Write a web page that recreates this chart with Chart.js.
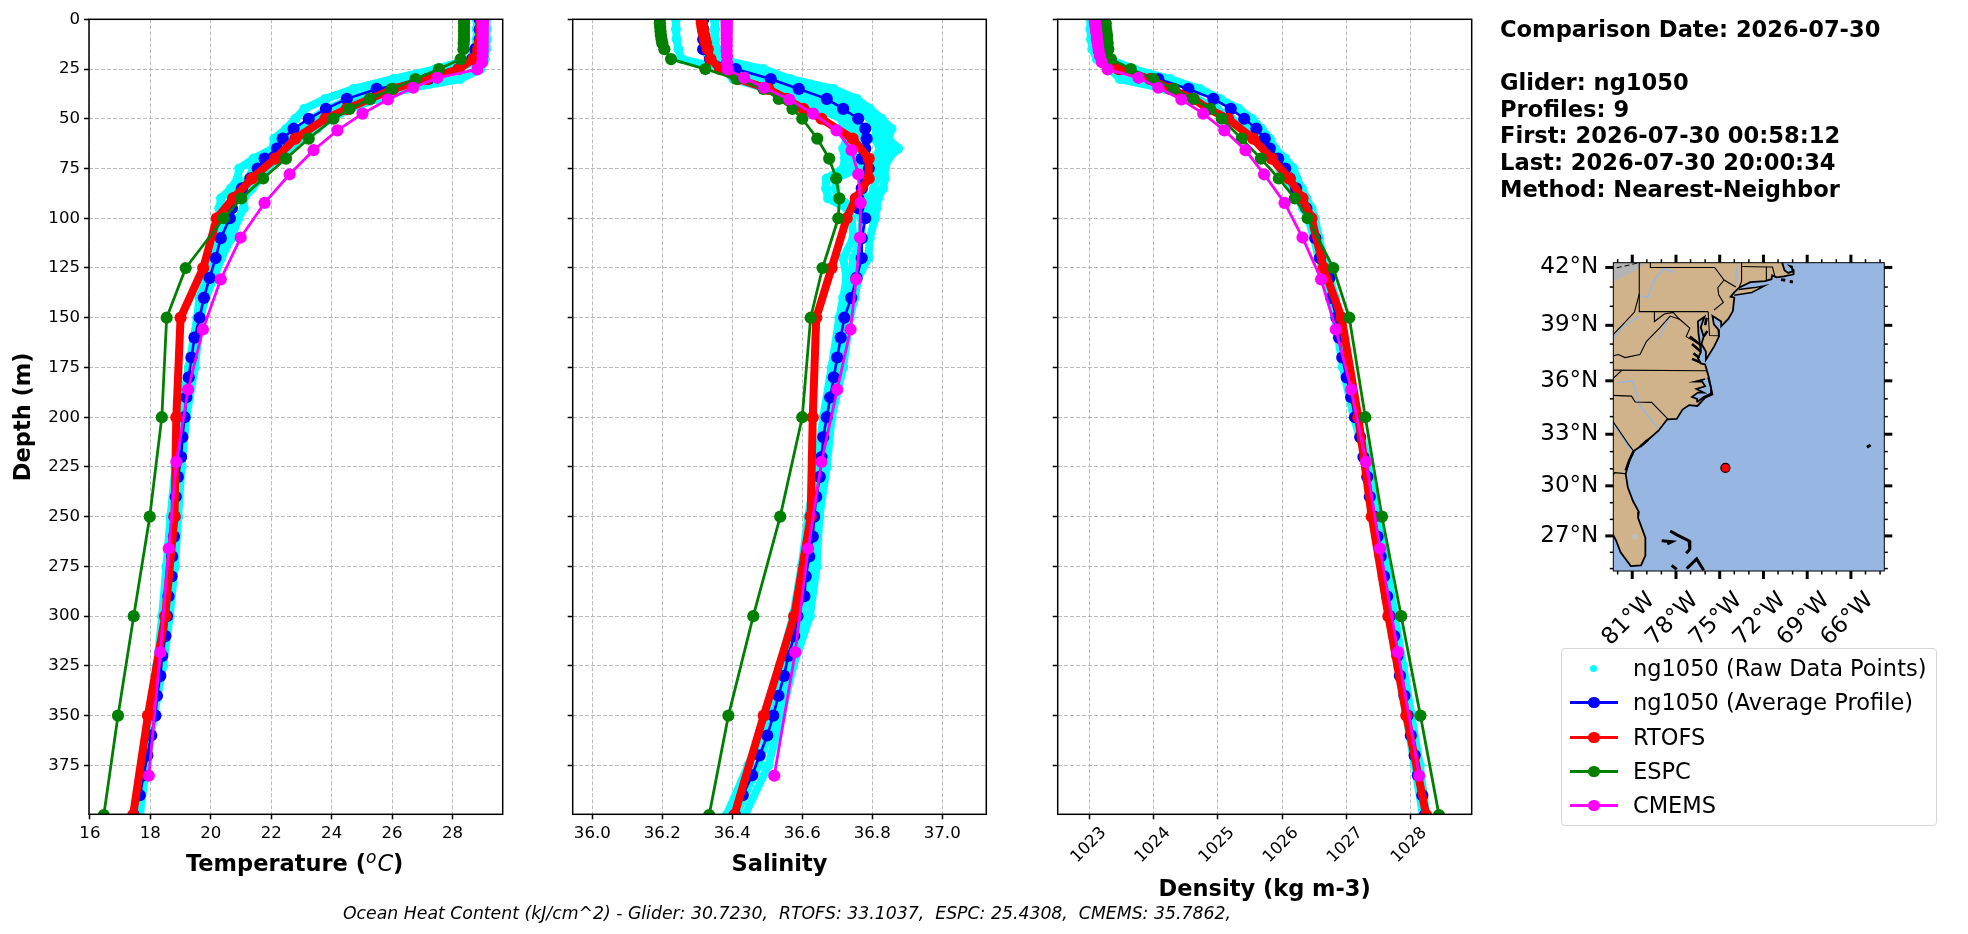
<!DOCTYPE html>
<html>
<head>
<meta charset="utf-8">
<title>ng1050 model comparison</title>
<script src="https://cdn.jsdelivr.net/npm/chart.js@4"></script>
<style>
  html, body { margin: 0; padding: 0; background: #fff; }
  body { position: relative; width: 1968px; height: 934px; overflow: hidden; font-family: "DejaVu Sans", sans-serif; color: #000; }
  canvas { position: absolute; top: 0; }
  .lbl { position: absolute; white-space: pre; }
  #temp-title { left: 186px; top: 850px; font: bold 22.5px "DejaVu Sans"; }
  #temp-title i { font-weight: normal; }
  #temp-title sup { font-size: 17px; line-height: 0; margin-right: 1px; }
  #info { left: 1500px; top: 16px; font: bold 22.6px/26.6px "DejaVu Sans"; }
  #ohc { left: 343px; top: 903px; font: italic 17.3px "DejaVu Sans"; }
  #legend { position: absolute; left: 1561px; top: 648px; width: 374px; height: 176px; border: 1.5px solid #d6d6d6; border-radius: 4px; }
  .row { position: absolute; left: 0; width: 100%; height: 30px; }
  .row .ln { position: absolute; left: 8px; top: 14px; width: 48px; height: 2.5px; }
  .row .dot { position: absolute; left: 26px; top: 9.5px; width: 11.5px; height: 11.5px; border-radius: 50%; }
  .row .txt { position: absolute; left: 71px; top: 0; font: 22.5px/30px "DejaVu Sans"; white-space: pre; }
</style>
</head>
<body>
<canvas id="tempChart" width="520" height="934" style="left:0"></canvas>
<canvas id="salChart" width="470" height="934" style="left:530px"></canvas>
<canvas id="densChart" width="480" height="934" style="left:1005px"></canvas>
<canvas id="mapChart" width="420" height="650" style="left:1530px"></canvas>
<div class="lbl" id="temp-title">Temperature (<i><sup>o</sup>C</i>)</div>
<div class="lbl" id="info">Comparison Date: 2026-07-30

Glider: ng1050
Profiles: 9
First: 2026-07-30 00:58:12
Last: 2026-07-30 20:00:34
Method: Nearest-Neighbor</div>
<div class="lbl" id="ohc">Ocean Heat Content (kJ/cm^2) - Glider: 30.7230,  RTOFS: 33.1037,  ESPC: 25.4308,  CMEMS: 35.7862,</div>
<div id="legend"></div>

<script>
// ---- values ----
const depthTicks = [0, 25, 50, 75, 100, 125, 150, 175, 200, 225, 250, 275, 300, 325, 350, 375];
const tempTicks = [16, 18, 20, 22, 24, 26, 28];
const salTicks = [36.0, 36.2, 36.4, 36.6, 36.8, 37.0];
const densTicks = [1023, 1024, 1025, 1026, 1027, 1028];

const gliderDepth = [0,5,10,15,20,25,30,35,40,45,50,55,60,65,70,75,80,85,90,95,100,
  110,120,130,140,150,160,170,180,190,200,210,220,230,240,250,260,270,280,290,300,
  310,320,330,340,350,360,370,380,390,400];
const gliderTemp = [28.9,28.9,28.9,28.75,28.65,28.2,27.2,25.49,24.5,23.81,23.24,22.74,22.38,22.19,21.78,21.55,21.31,21.03,20.76,20.70,20.63,
  20.33,20.16,19.96,19.77,19.63,19.46,19.36,19.27,19.19,19.13,19.06,19.02,18.91,18.84,18.80,18.78,18.72,18.70,18.60,18.55,
  18.50,18.39,18.33,18.22,18.17,18.03,17.90,17.78,17.65,17.45];
const gliderSal = [36.317,36.317,36.317,36.317,36.336,36.41,36.51,36.59,36.67,36.717,36.76,36.78,36.784,36.78,36.77,36.79,36.78,36.77,36.76,36.76,36.78,
  36.77,36.77,36.755,36.74,36.72,36.71,36.70,36.69,36.68,36.67,36.66,36.655,36.65,36.64,36.634,36.63,36.62,36.61,36.606,36.586,
  36.577,36.56,36.548,36.532,36.517,36.5,36.478,36.457,36.43,36.408];
const gliderDens = [1023.11,1023.12,1023.14,1023.17,1023.21,1023.47,1024.07,1024.54,1024.93,1025.2,1025.41,1025.6,1025.73,1025.81,1025.94,1026.05,1026.12,1026.22,1026.31,1026.38,1026.45,
  1026.52,1026.59,1026.74,1026.77,1026.85,1026.89,1026.94,1027.01,1027.08,1027.14,1027.22,1027.27,1027.33,1027.37,1027.44,1027.49,1027.54,1027.59,1027.64,1027.68,
  1027.75,1027.8,1027.84,1027.91,1027.96,1028.01,1028.07,1028.12,1028.19,1028.23];

const modelDepth = [0,2,4,6,8,10,12,15,20,25,30,35,40,45,50,60,70,80,90,100,125,150,200,250,300,350,400];
const rtofsTemp = [28.95,28.95,28.95,28.95,28.95,28.93,28.9,28.85,28.69,28.2,27.15,26.04,25.27,24.5,23.79,22.8,22.13,21.36,20.74,20.2,19.75,19.0,18.86,18.8,18.49,17.92,17.43];
const rtofsSal = [36.312,36.313,36.315,36.317,36.32,36.322,36.325,36.33,36.338,36.365,36.417,36.503,36.555,36.603,36.655,36.744,36.79,36.79,36.753,36.727,36.684,36.64,36.63,36.624,36.577,36.49,36.406];
const rtofsDens = [1023.08,1023.09,1023.10,1023.11,1023.12,1023.13,1023.14,1023.15,1023.29,1023.45,1023.94,1024.25,1024.62,1024.85,1025.16,1025.55,1025.84,1026.11,1026.32,1026.46,1026.65,1026.93,1027.19,1027.40,1027.66,1027.94,1028.25];
const espcTemp = [28.38,28.38,28.38,28.38,28.38,28.38,28.37,28.36,28.27,27.55,26.77,25.99,25.27,24.59,24.06,23.24,22.49,21.73,21.01,20.43,19.17,18.54,18.38,17.98,17.45,16.93,16.46];
const espcSal = [36.193,36.193,36.194,36.195,36.196,36.198,36.200,36.206,36.225,36.323,36.412,36.489,36.533,36.572,36.6,36.643,36.677,36.697,36.706,36.703,36.658,36.624,36.6,36.537,36.46,36.389,36.334];
const espcDens = [1023.24,1023.25,1023.25,1023.26,1023.27,1023.27,1023.28,1023.29,1023.33,1023.64,1023.99,1024.31,1024.61,1024.88,1025.06,1025.37,1025.67,1025.95,1026.2,1026.4,1026.8,1027.05,1027.3,1027.56,1027.86,1028.16,1028.45];

const cmemsDepth = [0.5,1.5,2.6,3.8,5.1,6.4,7.9,9.6,11.4,13.5,15.8,18.5,21.6,25.2,29.4,34.4,40.3,47.4,55.8,65.8,77.9,92.3,109.7,130.7,155.9,186.1,222.5,266.0,318.1,380.2];
const cmemsTemp = [29.0,29.0,29.0,29.0,29.0,29.0,29.0,29.0,29.0,29.0,29.0,28.99,28.98,28.82,27.5,26.7,25.86,25.02,24.19,23.4,22.61,21.78,20.99,20.33,19.74,19.25,18.86,18.61,18.33,17.95];
const cmemsSal = [36.384,36.384,36.384,36.384,36.384,36.384,36.384,36.384,36.384,36.384,36.384,36.385,36.385,36.387,36.434,36.491,36.563,36.631,36.698,36.741,36.76,36.767,36.765,36.754,36.738,36.7,36.655,36.617,36.58,36.52];
const cmemsDens = [1023.08,1023.08,1023.09,1023.09,1023.10,1023.10,1023.11,1023.11,1023.12,1023.13,1023.14,1023.16,1023.19,1023.28,1023.76,1024.07,1024.43,1024.77,1025.1,1025.43,1025.72,1026.04,1026.32,1026.61,1026.84,1027.08,1027.31,1027.53,1027.81,1028.14];

// raw glider points, sampled by eye across the width of the cloud
const rawDepth = [0,5,10,15,20,25,30,35,40,45,50,55,60,65,70,75,80,85,90,95,100,110,120,130,140,150,175,200,225,250,275,300,325,350,375,400];
const rawTempA = [28.80,28.80,28.80,28.74,28.58,27.44,26.04,24.72,23.79,23.10,22.80,22.50,22.10,22.05,21.42,20.94,20.89,20.67,20.34,20.28,20.34,20.32,20.06,19.88,19.62,19.55,19.27,18.97,18.83,18.67,18.53,18.39,18.22,18.0,17.73,17.48];
const rawTempB = [28.95,28.95,28.95,28.92,28.85,28.2,27.2,25.6,24.65,23.85,23.35,23.0,22.5,22.3,21.8,21.4,21.25,21.0,20.7,20.7,20.63,20.5,20.2,20.0,19.72,19.6,19.35,19.1,19.0,18.83,18.7,18.55,18.4,18.12,17.85,17.55];
const rawTempC = [29.11,29.13,29.13,29.11,29.07,28.93,28.25,26.48,25.49,24.61,23.95,23.51,22.96,22.63,22.19,21.86,21.64,21.36,21.09,21.09,20.92,20.68,20.35,20.10,19.82,19.66,19.47,19.19,19.03,18.92,18.81,18.64,18.42,18.11,17.87,17.65];
const rawSalA = [36.239,36.239,36.241,36.246,36.255,36.374,36.403,36.498,36.593,36.650,36.712,36.717,36.727,36.717,36.722,36.717,36.670,36.668,36.674,36.727,36.741,36.746,36.717,36.727,36.717,36.706,36.684,36.660,36.641,36.617,36.598,36.574,36.536,36.503,36.446,36.384];
const rawSalB = [36.317,36.317,36.317,36.317,36.336,36.431,36.498,36.593,36.670,36.717,36.755,36.765,36.770,36.770,36.770,36.760,36.695,36.695,36.70,36.755,36.770,36.770,36.746,36.741,36.731,36.719,36.700,36.670,36.655,36.630,36.620,36.598,36.555,36.522,36.475,36.410];
const rawSalC = [36.35,36.35,36.35,36.35,36.36,36.47,36.55,36.66,36.712,36.755,36.793,36.812,36.808,36.822,36.808,36.798,36.779,36.774,36.774,36.784,36.79];
const rawSalD = [36.350,36.350,36.350,36.355,36.365,36.489,36.565,36.689,36.755,36.793,36.827,36.855,36.846,36.874,36.846,36.836,36.836,36.831,36.817,36.812,36.808,36.793,36.789,36.760,36.750,36.736,36.717,36.684,36.670,36.649,36.641,36.622,36.574,36.541,36.503,36.436];
const rawSalE = [36.35,36.35,36.35,36.35,36.36,36.46,36.53,36.63,36.735,36.775,36.81,36.835,36.83,36.85,36.83,36.82,36.81,36.805,36.795,36.80,36.80];
const rawSalF = [36.317,36.317,36.317,36.317,36.336,36.40,36.45,36.55,36.63,36.685,36.735,36.74,36.748,36.745,36.746,36.74];
const rawDensA = [1023.01,1023.01,1023.02,1023.04,1023.11,1023.32,1023.47,1024.17,1024.67,1024.98,1025.21,1025.45,1025.63,1025.76,1025.86,1025.97,1026.07,1026.18,1026.25,1026.33,1026.41,1026.50,1026.57,1026.70,1026.75,1026.83,1026.95,1027.12,1027.35,1027.45,1027.58,1027.68,1027.81,1027.94,1028.07,1028.20];
const rawDensB = [1023.19,1023.19,1023.20,1023.21,1023.29,1023.68,1024.25,1024.72,1025.03,1025.32,1025.53,1025.68,1025.81,1025.89,1026.05,1026.18,1026.23,1026.31,1026.38,1026.46,1026.51,1026.58,1026.64,1026.75,1026.83,1026.90,1027.0,1027.16,1027.37,1027.50,1027.63,1027.76,1027.89,1028.02,1028.15,1028.25];

// inset map, [lon, lat]
const lonTicks = [-81, -78, -75, -72, -69, -66];
const latTicks = [27, 30, 33, 36, 39, 42];
const lonMinor = [-82,-80,-79,-77,-76,-74,-73,-71,-70,-68,-67,-65,-64];
const latMinor = [25,26,28,29,31,32,34,35,37,38,40,41];
const gliderPos = [[-74.61, 31.05]];
const land = [[-84,43],[-70.7,43],[-70.7,42.2],[-70.55,41.85],[-70.3,41.72],[-70.0,41.8],[-70.05,42.05],[-70.2,42.08],[-69.97,41.9],[-69.93,41.65],[-70.6,41.55],[-71.1,41.5],[-71.4,41.6],[-71.45,41.4],[-71.9,41.3],[-72.9,41.25],[-73.65,40.98],[-74.0,40.72],[-74.25,40.5],[-74.0,40.45],[-74.1,39.75],[-74.4,39.35],[-74.9,38.95],[-74.9,39.2],[-75.5,39.5],[-75.4,39.05],[-75.1,38.78],[-75.05,38.4],[-75.4,37.85],[-75.95,37.15],[-75.95,37.6],[-76.25,38.0],[-76.1,38.4],[-76.3,38.9],[-76.05,39.45],[-76.5,39.2],[-76.45,38.5],[-76.35,38.0],[-76.3,37.55],[-76.5,37.25],[-76.3,36.95],[-76.0,36.9],[-75.75,36.2],[-75.5,35.25],[-76.0,35.07],[-76.53,34.6],[-77.1,34.65],[-77.55,34.4],[-77.95,33.87],[-78.6,33.85],[-79.2,33.2],[-79.9,32.7],[-80.45,32.3],[-80.9,32.03],[-81.2,31.5],[-81.45,30.7],[-81.3,29.9],[-80.95,29.1],[-80.55,28.45],[-80.6,28.1],[-80.1,26.9],[-80.1,25.8],[-80.4,25.2],[-81.1,25.15],[-81.8,26.0],[-82.1,26.7],[-82.75,27.8],[-84,28]];
const longIsland = [[-74.0,40.58],[-72.8,40.72],[-71.9,41.07],[-72.6,40.97],[-73.7,40.87]];
const pamlico = [[-75.8,36.2],[-75.6,35.6],[-75.6,35.3],[-76.1,35.1],[-76.5,34.85],[-76.55,35.0],[-76.9,35.1],[-76.5,35.35],[-76.1,35.35],[-76.6,35.55],[-76.0,35.7],[-76.2,35.95],[-76.7,35.95],[-76.0,36.1]];
const erie = [[-84,43],[-80.0,43],[-80.0,42.3],[-80.92,41.8],[-82.3,41.3],[-84,41.3]];
const canadaLine = [[-82.6,41.9],[-81.2,42.12],[-80.0,42.35]];
const islands = [
  [[-78.98,26.7],[-78.3,26.65],[-78.6,26.52]],
  [[-78.4,27.3],[-77.9,27.05],[-77.1,26.7],[-77.05,26.2],[-77.3,25.95]],
  [[-77.27,25.0],[-76.58,25.6],[-76.1,24.9]],
  [[-78.3,25.2],[-77.95,24.95]],
  [[-64.9,32.25],[-64.65,32.38]],
  [[-70.8,41.38],[-70.5,41.35]],
  [[-70.2,41.28],[-69.98,41.26]]
];
const tidalRivers = [
  [[-76.3,37.0],[-76.9,37.2]],
  [[-76.4,37.25],[-76.8,37.5]],
  [[-76.3,37.6],[-76.9,38.0]],
  [[-76.3,37.95],[-77.05,38.4]],
  [[-76.1,38.4],[-75.85,38.7]],
  [[-76.0,39.0],[-75.9,39.4]],
  [[-80.9,32.03],[-81.2,31.5],[-81.45,30.9]],
  [[-79.9,32.7],[-80.45,32.3]]
];
const stateLines = [
  [[-80.52,42.4],[-80.52,39.72],[-75.79,39.72]],
  [[-79.76,42.4],[-79.76,42.0],[-75.35,42.0],[-74.7,41.36],[-73.9,41.0]],
  [[-74.7,41.36],[-75.13,40.97],[-75.07,40.6],[-74.75,40.2],[-75.4,39.8]],
  [[-75.79,39.72],[-75.7,38.46],[-75.05,38.45]],
  [[-79.48,39.72],[-79.48,39.2],[-78.8,39.6],[-78.2,39.68],[-77.75,39.32],[-77.05,38.85],[-77.3,38.4],[-76.3,37.95]],
  [[-82.6,37.3],[-81.95,37.44],[-81.5,37.27],[-80.47,37.44],[-80.02,38.15],[-79.1,38.88],[-78.4,39.49],[-77.75,39.32]],
  [[-80.52,40.64],[-80.85,39.7],[-81.7,39.0],[-82.2,38.6],[-82.6,38.2]],
  [[-82.5,36.59],[-75.9,36.55]],
  [[-82.5,35.2],[-81.05,35.15],[-80.8,34.82],[-79.67,34.8],[-78.55,33.86]],
  [[-82.5,33.95],[-81.27,32.43],[-80.9,32.03]],
  [[-82.5,30.4],[-82.2,30.78],[-81.5,30.72]],
  [[-82.5,36.0],[-81.7,36.59]],
  [[-73.5,42.4],[-73.5,41.3],[-73.65,41.0]],
  [[-73.5,42.05],[-71.8,42.02],[-71.8,41.35]],
  [[-71.8,42.02],[-71.38,42.02],[-71.2,41.5]]
];
const rivers = [
  [[-80.4,40.55],[-79.95,40.45],[-79.55,41.3],[-78.85,41.95],[-78.1,41.75]],
  [[-82.3,38.25],[-81.7,38.9],[-80.5,39.5]],
  [[-78.4,39.49],[-79.2,38.3]],
  [[-82.0,35.9],[-81.0,36.0],[-80.45,34.6],[-79.2,33.3]],
  [[-82.3,33.6],[-81.1,32.1]],
  [[-73.75,42.3],[-73.95,41.0]]
];
const lakeO = [[-80.85, 26.95]];

// ---- layout of the four plot frames, px on the page ----
const depthMax = 399.6;
const frameTop = 19.3, frameBottom = 814.3;
const frames = {
  temp: { canvasLeft: 0, canvasWidth: 520, left: 89, right: 502.7, min: 15.97, max: 29.66 },
  sal: { canvasLeft: 530, canvasWidth: 470, left: 572.7, right: 986.3, min: 35.944, max: 37.126 },
  dens: { canvasLeft: 1005, canvasWidth: 480, left: 1057.7, right: 1471.7, min: 1022.5, max: 1028.96 }
};

Chart.defaults.font.family = '"DejaVu Sans"';
Chart.defaults.color = '#000';
Chart.defaults.animation = false;

const zip = (xs, ys) => xs.map((x, i) => ({ x, y: ys[i] }));

// matplotlib draws a closed box round the axes
const frameBox = {
  id: 'frameBox',
  afterDatasetsDraw(chart, args, opts) {
    const { ctx, chartArea: a } = chart;
    ctx.save();
    ctx.strokeStyle = '#000';
    ctx.lineWidth = opts.width || 1.5;
    ctx.strokeRect(a.left, a.top, a.right - a.left, a.bottom - a.top);
    ctx.restore();
  }
};

function rawSet(values, order) {
  return {
    data: zip(values, rawDepth), showLine: true, order,
    borderColor: '#00ffff', borderWidth: 8, borderCapStyle: 'round', borderJoinStyle: 'round',
    pointRadius: 5, pointBackgroundColor: '#00ffff', pointBorderWidth: 0, clip: 0
  };
}

function modelSet(values, depths, color, width, order) {
  return {
    data: zip(values, depths), showLine: true, order,
    borderColor: color, borderWidth: width, borderJoinStyle: 'round',
    pointRadius: 6.1, pointBackgroundColor: color, pointBorderWidth: 0, clip: 0
  };
}

function profileChart(id, frame, xTicks, rawSets, series, opt) {
  const H = 934;
  return new Chart(document.getElementById(id), {
    type: 'scatter',
    data: { datasets: [
      ...rawSets.map((r, i) => rawSet(r, 10 + i)),
      modelSet(series[0], gliderDepth, '#0000ff', 2.6, 4),
      modelSet(series[1], modelDepth, '#ff0000', 8, 3),
      modelSet(series[2], modelDepth, '#008000', 2.8, 2),
      modelSet(series[3], cmemsDepth, '#ff00ff', 2.8, 1)
    ] },
    plugins: [frameBox],
    options: {
      responsive: false,
      layout: { autoPadding: false, padding: { top: frameTop, right: frame.canvasWidth - (frame.right - frame.canvasLeft), left: 0, bottom: 0 } },
      plugins: { legend: { display: false }, tooltip: { enabled: false } },
      scales: {
        x: {
          type: 'linear', position: 'bottom', min: frame.min, max: frame.max,
          afterBuildTicks: s => { s.ticks = xTicks.map(value => ({ value })); },
          afterFit: s => { s.height = H - frameBottom; },
          grid: { color: '#b4b4b4', lineWidth: 0.9, tickColor: '#000', tickWidth: 1.5, tickLength: 5, tickBorderDash: [] },
          border: { display: false, dash: [4, 2] },
          ticks: {
            font: { size: 16.6 }, padding: opt.tickPad || 4, autoSkip: false,
            minRotation: opt.rotate || 0, maxRotation: opt.rotate || 0, labelOffset: opt.labelOffset || 0,
            callback: v => xTicks.includes(+v.toFixed(1)) ? (opt.decimals ? v.toFixed(1) : String(v)) : ''
          },
          title: opt.xTitle ? { display: true, text: opt.xTitle, font: { size: 22.5, weight: 'bold' }, padding: { top: 0, bottom: opt.titlePad } } : { display: false }
        },
        y: {
          type: 'linear', position: 'left', reverse: true, min: 0, max: depthMax,
          afterBuildTicks: s => { s.ticks = depthTicks.map(value => ({ value })); },
          afterFit: s => { s.width = frame.left - frame.canvasLeft; },
          grid: { color: '#b4b4b4', lineWidth: 0.9, tickColor: '#000', tickWidth: 1.5, tickLength: 5, tickBorderDash: [] },
          border: { display: false, dash: [4, 2] },
          ticks: { font: { size: 16.6 }, padding: 4, autoSkip: false, callback: v => opt.yLabels ? String(v) : '' },
          title: opt.yLabels ? { display: true, text: 'Depth (m)', font: { size: 22.5, weight: 'bold' }, padding: { top: 11, bottom: 0 } } : { display: false }
        }
      }
    }
  });
}

profileChart('tempChart', frames.temp, tempTicks, [rawTempA, rawTempB, rawTempC],
  [gliderTemp, rtofsTemp, espcTemp, cmemsTemp], { yLabels: true });
profileChart('salChart', frames.sal, salTicks, [rawSalA, rawSalB, rawSalC, rawSalD, rawSalE, rawSalF],
  [gliderSal, rtofsSal, espcSal, cmemsSal], { decimals: true, xTitle: 'Salinity', titlePad: 55 });
profileChart('densChart', frames.dens, densTicks, [rawDensA, rawDensB],
  [gliderDens, rtofsDens, espcDens, cmemsDens], { rotate: 45, labelOffset: 14, xTitle: 'Density (kg m-3)', titlePad: 30 });

// ---- inset map ----
const merc = lat => Math.log(Math.tan(Math.PI / 4 + lat * Math.PI / 360)) * 180 / Math.PI;
const toXY = pts => pts.map(p => ({ x: p[0], y: merc(p[1]) }));
const mapFrame = { canvasLeft: 1530, canvasWidth: 420, left: 1613.3, right: 1884.3, top: 262.7, bottom: 571, canvasHeight: 650 };
const oceanColor = '#97b6e1', landColor = '#d0b38a';

const poly = (pts, fill, line, w, extra) => Object.assign({
  data: toXY(pts), showLine: true, fill: 'shape', backgroundColor: fill,
  borderColor: line, borderWidth: w, pointRadius: 0, clip: 0
}, extra);
const path = (pts, line, w, extra) => Object.assign({
  data: toXY(pts), showLine: true, fill: false,
  borderColor: line, borderWidth: w, pointRadius: 0, clip: 0
}, extra);

const mapSets = [
  poly(land, landColor, '#000', 1.8),
  poly(erie, '#b4b4b4', '#b4b4b4', 1),
  path(canadaLine, '#000', 1, { borderDash: [5, 3] }),
  ...rivers.map(r => path(r, oceanColor, 1.5)),
  ...stateLines.map(r => path(r, '#000', 1.1)),
  poly(pamlico, oceanColor, '#000', 1.8),
  ...tidalRivers.map(r => path(r, '#000', 2.6)),
  poly(longIsland, landColor, '#000', 1.5),
  ...islands.map(r => path(r, '#000', 3)),
  { data: toXY(lakeO), showLine: false, pointRadius: 3, pointBackgroundColor: '#bdbdbd', pointBorderWidth: 0, clip: 0 },
  { data: toXY(gliderPos), showLine: false, pointRadius: 4.5, pointBackgroundColor: '#ff0000', pointBorderColor: '#000', pointBorderWidth: 1.2, clip: 0 }
];
mapSets.forEach((d, i) => { d.order = mapSets.length - i; });

// cartopy ticks on all four sides, minor ones shorter
const mapTicks = {
  id: 'mapTicks',
  afterDraw(chart) {
    const { ctx, chartArea: a, scales: { x, y } } = chart;
    const mark = (x0, y0, x1, y1, w) => {
      ctx.lineWidth = w;
      ctx.beginPath(); ctx.moveTo(x0, y0); ctx.lineTo(x1, y1); ctx.stroke();
    };
    const each = (lons, lats, len, w) => {
      lons.forEach(v => {
        const p = x.getPixelForValue(v);
        if (p < a.left || p > a.right) return;
        mark(p, a.top, p, a.top - len, w);
        mark(p, a.bottom, p, a.bottom + len, w);
      });
      lats.forEach(v => {
        const p = y.getPixelForValue(merc(v));
        if (p < a.top || p > a.bottom) return;
        mark(a.left, p, a.left - len, p, w);
        mark(a.right, p, a.right + len, p, w);
      });
    };
    ctx.save();
    ctx.strokeStyle = '#000';
    each(lonTicks, latTicks, 8, 3);
    each(lonMinor, latMinor, 3.5, 1.5);
    ctx.restore();
  }
};
const oceanFill = {
  id: 'oceanFill',
  beforeDatasetsDraw(chart) {
    const { ctx, chartArea: a } = chart;
    ctx.save();
    ctx.fillStyle = oceanColor;
    ctx.fillRect(a.left, a.top, a.right - a.left, a.bottom - a.top);
    ctx.restore();
  }
};

new Chart(document.getElementById('mapChart'), {
  type: 'scatter',
  data: { datasets: mapSets },
  plugins: [oceanFill, frameBox, mapTicks],
  options: {
    responsive: false,
    layout: { autoPadding: false, padding: { top: mapFrame.top, right: mapFrame.canvasWidth - (mapFrame.right - mapFrame.canvasLeft), left: 0, bottom: 0 } },
    plugins: { legend: { display: false }, tooltip: { enabled: false }, frameBox: { width: 1 } },
    scales: {
      x: {
        type: 'linear', position: 'bottom', min: -82.3, max: -63.71,
        afterBuildTicks: s => { s.ticks = lonTicks.map(value => ({ value })); },
        afterFit: s => { s.height = mapFrame.canvasHeight - mapFrame.bottom; },
        grid: { display: false },
        border: { display: false },
        ticks: {
          font: { size: 23 }, padding: 8, autoSkip: false, minRotation: 45, maxRotation: 45, labelOffset: 19,
          callback: v => `${Math.abs(v)}°W`
        }
      },
      y: {
        type: 'linear', position: 'left', min: merc(24.85), max: merc(42.24),
        afterBuildTicks: s => { s.ticks = latTicks.map(lat => ({ value: merc(lat) })); },
        afterFit: s => { s.width = mapFrame.left - mapFrame.canvasLeft; },
        grid: { display: false },
        border: { display: false },
        ticks: { font: { size: 23 }, padding: 7, autoSkip: false, callback: (v, i) => `${latTicks[i]}°N` }
      }
    }
  }
});

// ---- legend ----
const legendRows = [
  { text: 'ng1050 (Raw Data Points)', color: '#00ffff', raw: true },
  { text: 'ng1050 (Average Profile)', color: '#0000ff' },
  { text: 'RTOFS', color: '#ff0000' },
  { text: 'ESPC', color: '#008000' },
  { text: 'CMEMS', color: '#ff00ff' }
];
const rowTops = [4, 38, 73, 107, 141];
const legend = document.getElementById('legend');
legendRows.forEach((r, i) => {
  const row = document.createElement('div');
  row.className = 'row';
  row.style.top = rowTops[i] + 'px';
  row.innerHTML = (r.raw ? '' : `<span class="ln" style="background:${r.color}"></span>`) +
    `<span class="dot" style="background:${r.color}${r.raw ? ';width:7px;height:7px;left:28px;top:12px' : ''}"></span>` +
    `<span class="txt">${r.text}</span>`;
  legend.appendChild(row);
});
</script>
</body>
</html>
